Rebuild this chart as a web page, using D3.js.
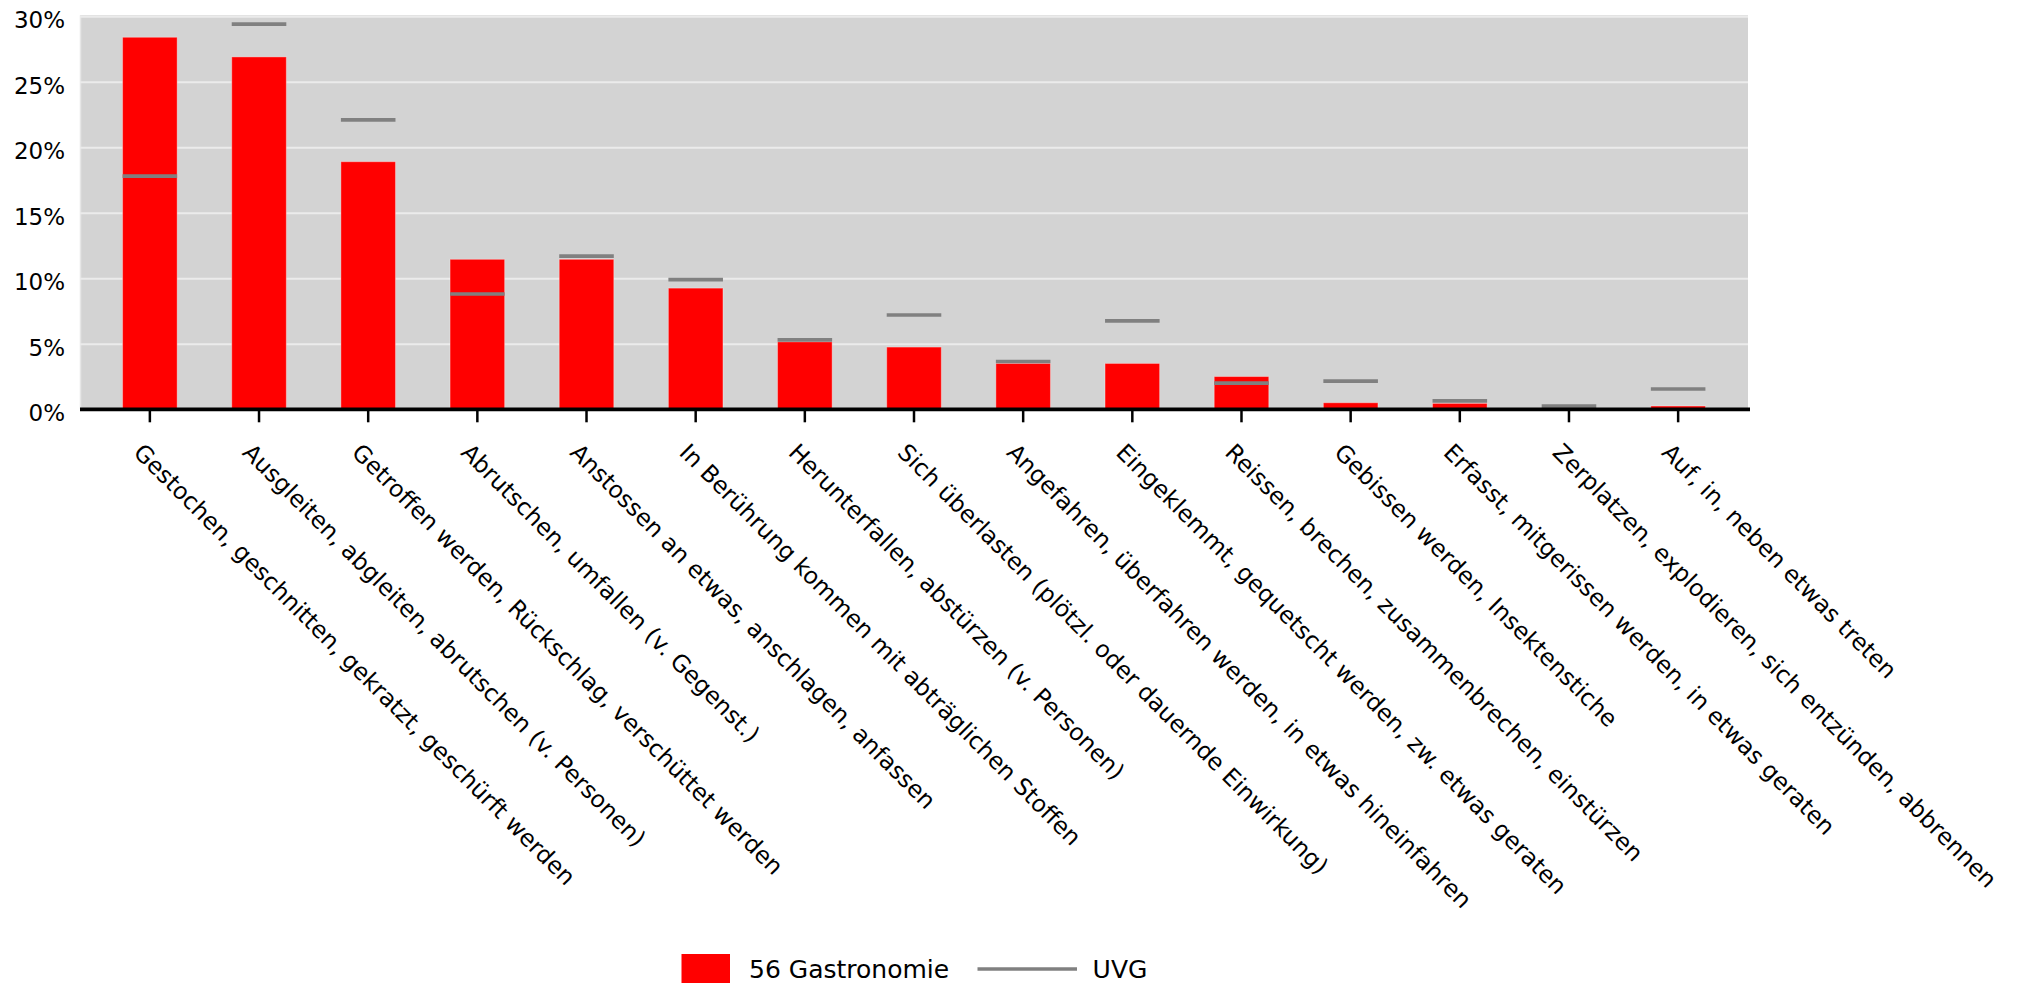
<!DOCTYPE html>
<html>
<head>
<meta charset="utf-8">
<script src="https://cdn.jsdelivr.net/npm/d3@7/dist/d3.min.js"></script>
<style>
  html, body { margin: 0; padding: 0; background: #ffffff; }
  svg { display: block; }
  text { font-family: "DejaVu Sans", Verdana, sans-serif; fill: #000; }
</style>
</head>
<body>
<svg id="chart" width="2021" height="986"></svg>
<script>
const categories = [
  "Gestochen, geschnitten, gekratzt, geschürft werden",
  "Ausgleiten, abgleiten, abrutschen (v. Personen)",
  "Getroffen werden, Rückschlag, verschüttet werden",
  "Abrutschen, umfallen (v. Gegenst.)",
  "Anstossen an etwas, anschlagen, anfassen",
  "In Berührung kommen mit abträglichen Stoffen",
  "Herunterfallen, abstürzen (v. Personen)",
  "Sich überlasten (plötzl. oder dauernde Einwirkung)",
  "Angefahren, überfahren werden, in etwas hineinfahren",
  "Eingeklemmt, gequetscht werden, zw. etwas geraten",
  "Reissen, brechen, zusammenbrechen, einstürzen",
  "Gebissen werden, Insektenstiche",
  "Erfasst, mitgerissen werden, in etwas geraten",
  "Zerplatzen, explodieren, sich entzünden, abbrennen",
  "Auf, in, neben etwas treten"
];
const gastroValues = [28.4, 26.9, 18.9, 11.45, 11.45, 9.25, 5.15, 4.75, 3.5, 3.5, 2.5, 0.5, 0.45, 0, 0.25];
const uvgValues    = [17.8, 29.4, 22.1, 8.8, 11.7, 9.9, 5.3, 7.2, 3.65, 6.75, 2.0, 2.15, 0.65, 0.25, 1.55];
const yTicks = [0, 5, 10, 15, 20, 25, 30];
const seriesNames = ["56 Gastronomie", "UVG"];

const svg = d3.select("#chart");
const plotL = 80, plotR = 1748, plotT = 16.3, plotB = 409.3;

const x = d3.scaleBand().domain(categories).range([plotL, plotR])
  .paddingInner(0.5).paddingOuter(0.39);
const y = d3.scaleLinear().domain([0, 30]).range([plotB, plotT]);

// plot background
svg.append("rect")
  .attr("x", plotL).attr("y", plotT - 1)
  .attr("width", plotR - plotL).attr("height", plotB - plotT + 1)
  .attr("fill", "#d3d3d3");
svg.append("line")
  .attr("x1", plotL + 0.5).attr("x2", plotL + 0.5)
  .attr("y1", plotT - 1).attr("y2", plotB)
  .attr("stroke", "#e6e6e6").attr("stroke-width", 1.5);

// gridlines
const grid = svg.append("g")
  .attr("transform", `translate(${plotL},0)`)
  .call(d3.axisLeft(y).tickValues(yTicks).tickSize(-(plotR - plotL)).tickFormat(""));
grid.select(".domain").remove();
grid.selectAll(".tick line").attr("stroke", "#ebebeb").attr("stroke-width", 2);

// y axis labels
const yAxis = svg.append("g")
  .attr("transform", `translate(${plotL - 15},0)`)
  .call(d3.axisLeft(y).tickValues(yTicks).tickSize(0).tickPadding(0).tickFormat(d => d + "%"));
yAxis.select(".domain").remove();
yAxis.selectAll("text")
  .attr("font-size", 23)
  .attr("font-family", "DejaVu Sans, Verdana, sans-serif")
  .attr("fill", "#000")
  .attr("dy", "0.5em");

// bars
svg.append("g").selectAll("rect")
  .data(categories)
  .join("rect")
  .attr("x", d => x(d))
  .attr("width", x.bandwidth())
  .attr("y", (d, i) => y(gastroValues[i]))
  .attr("height", (d, i) => y(0) - y(gastroValues[i]))
  .attr("fill", "#ff0000")
  .attr("stroke", "rgba(255,255,255,0.35)")
  .attr("stroke-width", 1);

// UVG markers
svg.append("g").selectAll("line")
  .data(categories)
  .join("line")
  .attr("x1", d => x(d))
  .attr("x2", d => x(d) + x.bandwidth())
  .attr("y1", (d, i) => y(uvgValues[i]))
  .attr("y2", (d, i) => y(uvgValues[i]))
  .attr("stroke", "#808080")
  .attr("stroke-width", 3.7);

// x axis
const xAxis = svg.append("g")
  .attr("transform", `translate(0,${plotB})`)
  .call(d3.axisBottom(x).tickSize(13).tickFormat(""));
xAxis.select(".domain").remove();
xAxis.selectAll(".tick line").attr("stroke", "#000").attr("stroke-width", 2.5);
svg.append("line")
  .attr("x1", plotL).attr("x2", plotR + 2)
  .attr("y1", plotB).attr("y2", plotB)
  .attr("stroke", "#000").attr("stroke-width", 3.7);

// x labels rotated
svg.append("g").selectAll("text")
  .data(categories)
  .join("text")
  .attr("transform", d => `translate(${x(d) + x.bandwidth() / 2 - 12},448) rotate(45)`)
  .attr("font-size", 23.5)
  .attr("dominant-baseline", "central")
  .attr("text-anchor", "start")
  .text(d => d);

// legend
const legend = svg.append("g");
legend.append("rect")
  .attr("x", 681.5).attr("y", 954).attr("width", 48.5).attr("height", 29)
  .attr("fill", "#ff0000");
legend.append("text")
  .attr("x", 749).attr("y", 969)
  .attr("font-size", 25)
  .attr("dominant-baseline", "central")
  .text(seriesNames[0]);
legend.append("line")
  .attr("x1", 977.5).attr("x2", 1077).attr("y1", 969).attr("y2", 969)
  .attr("stroke", "#808080").attr("stroke-width", 3.7);
legend.append("text")
  .attr("x", 1092.6).attr("y", 969)
  .attr("font-size", 25)
  .attr("dominant-baseline", "central")
  .text(seriesNames[1]);
</script>
</body>
</html>
